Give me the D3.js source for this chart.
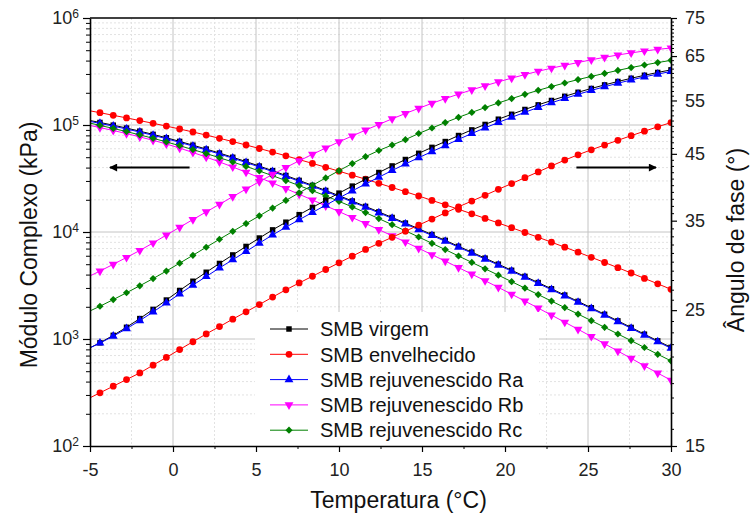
<!DOCTYPE html>
<html>
<head>
<meta charset="utf-8">
<script src="https://cdn.jsdelivr.net/npm/d3@7"></script>
<style>
  body { margin: 0; background: #fff; }
  text { font-family: "Liberation Sans", Arial, sans-serif; }
</style>
</head>
<body>
<div id="chart"></div>
<script>
// temperatures of the measured points (°C)
var temps = [-5.2, -4.4, -3.6, -2.8, -2.0, -1.2, -0.4, 0.4, 1.2, 2.0, 2.8, 3.6, 4.4, 5.2, 6.0,
  6.8, 7.6, 8.4, 9.2, 10.0, 10.8, 11.6, 12.4, 13.2, 14.0, 14.8, 15.6, 16.4, 17.2, 18.0,
  18.8, 19.6, 20.4, 21.2, 22.0, 22.8, 23.6, 24.4, 25.2, 26.0, 26.8, 27.6, 28.4, 29.2, 30.0];

// complex modulus (kPa), left axis
var modVirgem = [111700, 105600, 99610, 93600, 87550, 81730, 75960, 70280, 64770, 59580,
  54650, 49920, 45510, 41320, 37410, 33740, 30370, 27270, 24440, 21850,
  19490, 17350, 15410, 13670, 12120, 10720, 9461, 8351, 7354, 6477,
  5693, 5004, 4387, 3848, 3368, 2946, 2573, 2247, 1958, 1702,
  1477, 1282, 1109, 960.3, 835.1];
var modEnvelhecido = [137500, 130300, 123200, 116500, 109900, 103700, 97660, 91760, 86020, 80450,
  75120, 69980, 65030, 60320, 55810, 51530, 47500, 43770, 40250, 37000,
  33950, 31150, 28520, 26060, 23810, 21700, 19740, 17960, 16300, 14800,
  13400, 12140, 10970, 9893, 8925, 8031, 7210, 6475, 5802, 5188,
  4638, 4139, 3685, 3280, 2914];
var modRa = [109500, 103500, 97660, 91760, 85830, 80130, 74470, 68900, 63500, 58410,
  53580, 48940, 44620, 40510, 36680, 33080, 29770, 26740, 23960, 21420,
  19110, 17010, 15110, 13400, 11880, 10510, 9275, 8187, 7210, 6350,
  5581, 4906, 4301, 3773, 3302, 2888, 2523, 2203, 1920, 1669,
  1448, 1257, 1087, 941.5, 818.7];
var modRb = [100500, 94570, 88840, 83120, 77410, 71970, 66450, 60820, 55330, 50130,
  45190, 40510, 36220, 32250, 28710, 25450, 22510, 19910, 17580, 15510,
  13660, 12000, 10530, 9215, 8065, 7044, 6136, 5347, 4648, 4041,
  3507, 3036, 2622, 2261, 1945, 1672, 1436, 1232, 1056, 902.1,
  770.9, 659.2, 561.4, 480.1, 412.0];
var modRc = [106000, 99140, 92940, 86770, 80810, 75120, 69520, 64040, 58900, 54060,
  49480, 45100, 41030, 37170, 33580, 30230, 27140, 24330, 21750, 19340,
  17160, 15180, 13340, 11700, 10260, 8983, 7843, 6850, 5968, 5199,
  4531, 3949, 3432, 2992, 2601, 2260, 1966, 1710, 1484, 1287,
  1114, 965.1, 832.7, 719.8, 624.6];

// phase angle (°), right axis
var phaseVirgem = [21.57, 22.11, 22.74, 23.44, 24.22, 25.07, 25.97, 26.92, 27.87, 28.83,
  29.80, 30.77, 31.77, 32.79, 33.81, 34.80, 35.80, 36.79, 37.80, 38.82,
  39.86, 40.90, 41.95, 43.00, 44.05, 45.09, 46.11, 47.13, 48.21, 49.24,
  50.26, 51.26, 52.22, 53.17, 54.10, 55.00, 55.87, 56.72, 57.54, 58.32,
  59.07, 59.79, 60.47, 61.11, 61.71];
var phaseEnvelhecido = [17.87, 18.32, 18.78, 19.26, 19.74, 20.33, 20.93, 21.56, 22.20, 22.86,
  23.50, 24.17, 24.84, 25.53, 26.26, 26.99, 27.69, 28.40, 29.13, 29.87,
  30.63, 31.41, 32.14, 32.88, 33.64, 34.42, 35.22, 36.04, 36.87, 37.68,
  38.51, 39.38, 40.24, 41.14, 42.05, 43.00, 43.95, 44.84, 45.69, 46.52,
  47.35, 48.18, 49.00, 49.82, 50.62];
var phaseRa = [21.57, 22.09, 22.67, 23.32, 24.04, 24.83, 25.68, 26.58, 27.47, 28.37,
  29.30, 30.22, 31.17, 32.17, 33.17, 34.15, 35.13, 36.10, 37.10, 38.12,
  39.15, 40.18, 41.22, 42.27, 43.32, 44.36, 45.38, 46.42, 47.52, 48.58,
  49.62, 50.64, 51.63, 52.61, 53.59, 54.53, 55.41, 56.29, 57.13, 57.92,
  58.69, 59.41, 60.11, 60.74, 61.34];
var phaseRb = [28.26, 28.96, 29.70, 30.48, 31.29, 32.19, 33.16, 34.14, 35.15, 36.17,
  37.22, 38.31, 39.42, 40.53, 41.65, 42.75, 43.84, 44.92, 46.00, 47.08,
  48.13, 49.20, 50.26, 51.33, 52.37, 53.40, 54.42, 55.39, 56.33, 57.24,
  58.13, 58.99, 59.82, 60.62, 61.39, 62.10, 62.78, 63.44, 64.09, 64.70,
  65.26, 65.78, 66.25, 66.65, 67.00];
var phaseRc = [24.78, 25.37, 26.01, 26.69, 27.40, 28.15, 28.96, 29.83, 30.73, 31.67,
  32.64, 33.62, 34.62, 35.64, 36.70, 37.77, 38.87, 39.98, 41.10, 42.24,
  43.39, 44.53, 45.57, 46.52, 47.47, 48.58, 49.59, 50.62, 51.62, 52.59,
  53.55, 54.49, 55.39, 56.28, 57.14, 57.96, 58.74, 59.50, 60.21, 60.90,
  61.59, 62.25, 62.85, 63.43, 63.96];

var seriesNames = ["SMB virgem", "SMB envelhecido", "SMB rejuvenescido Ra", "SMB rejuvenescido Rb", "SMB rejuvenescido Rc"];
var modSeries = [modVirgem, modEnvelhecido, modRa, modRb, modRc];
var phaseSeries = [phaseVirgem, phaseEnvelhecido, phaseRa, phaseRb, phaseRc];

// tick values
var xTicks = [-5, 0, 5, 10, 15, 20, 25, 30];
var leftExps = [2, 3, 4, 5, 6];
var rightTicks = [15, 25, 35, 45, 55, 65, 75];

// arrows: [from temperature, to temperature, modulus level]
var arrows = [[1.0, -3.8, 40000], [24.3, 29.1, 40000]];

var colors = ["#000000", "#ff0000", "#0000ff", "#ff00ff", "#008000"];
var symbols = [d3.symbolSquare, d3.symbolCircle, d3.symbolTriangle, d3.symbolTriangle, d3.symbolSquare];
var symRot = [0, 0, 0, 180, 45];
var symSize = [30, 36, 34, 34, 26];

var margin = {top: 18, right: 81, bottom: 75, left: 90},
    width = 752 - margin.left - margin.right,
    height = 521 - margin.top - margin.bottom;

var root = d3.select("#chart").append("svg")
    .attr("width", 752)
    .attr("height", 521);
root.append("rect").attr("width", 752).attr("height", 521).attr("fill", "#fff");

var svg = root.append("g")
    .attr("transform", "translate(" + margin.left + "," + margin.top + ")");

var x = d3.scaleLinear().domain([-5, 30]).range([0, width]);
var yL = d3.scaleLog().domain([100, 1e6]).range([height, 0]);
var yR = d3.scaleLog().domain([15, 75]).range([height, 0]);

// minor tick positions
var xMinor = xTicks.slice(0, -1).map(function(d) { return d + 2.5; });
var leftMajor = leftExps.map(function(e) { return Math.pow(10, e); });
var leftMinor = [];
leftMajor.slice(0, -1).forEach(function(dec) {
  for (var m = 2; m <= 9; m++) leftMinor.push(dec * m);
});
var rightMinor = d3.range(16, 75).filter(function(d) { return rightTicks.indexOf(d) < 0; });

// grid
var grid = svg.append("g");
grid.selectAll(".hminor").data(leftMinor).enter().append("line")
    .attr("x1", 0).attr("x2", width)
    .attr("y1", function(d) { return yL(d); }).attr("y2", function(d) { return yL(d); })
    .attr("stroke", "#e2e2e2").attr("stroke-dasharray", "2,2");
grid.selectAll(".vminor").data(xMinor).enter().append("line")
    .attr("y1", 0).attr("y2", height)
    .attr("x1", function(d) { return x(d); }).attr("x2", function(d) { return x(d); })
    .attr("stroke", "#e2e2e2").attr("stroke-dasharray", "2,2");
grid.selectAll(".hmajor").data(leftMajor.slice(1, -1)).enter().append("line")
    .attr("x1", 0).attr("x2", width)
    .attr("y1", function(d) { return yL(d); }).attr("y2", function(d) { return yL(d); })
    .attr("stroke", "#c4c4c4");
grid.selectAll(".vmajor").data(xTicks.slice(1, -1)).enter().append("line")
    .attr("y1", 0).attr("y2", height)
    .attr("x1", function(d) { return x(d); }).attr("x2", function(d) { return x(d); })
    .attr("stroke", "#c4c4c4");

// clip for curves
svg.append("clipPath").attr("id", "plotclip")
  .append("rect").attr("width", width).attr("height", height);

var plot = svg.append("g").attr("clip-path", "url(#plotclip)");

function drawSeries(i, values, yScale) {
  var pts = temps.map(function(t, k) { return [t, values[k]]; });
  var line = d3.line()
      .x(function(d) { return x(d[0]); })
      .y(function(d) { return yScale(d[1]); });
  var g = plot.append("g");
  g.append("path")
      .attr("d", line(pts))
      .attr("fill", "none")
      .attr("stroke", colors[i])
      .attr("stroke-width", 1);
  g.selectAll("path.pt").data(pts).enter().append("path")
      .attr("class", "pt")
      .attr("d", d3.symbol().type(symbols[i]).size(symSize[i]))
      .attr("transform", function(d) {
        return "translate(" + x(d[0]) + "," + yScale(d[1]) + ") rotate(" + symRot[i] + ")";
      })
      .attr("fill", colors[i]);
}

modSeries.forEach(function(v, i) { drawSeries(i, v, yL); });
phaseSeries.forEach(function(v, i) { drawSeries(i, v, yR); });

// arrows
var defs = svg.append("defs");
defs.append("marker")
    .attr("id", "ahead")
    .attr("viewBox", "0 0 10 10")
    .attr("refX", 9).attr("refY", 5)
    .attr("markerWidth", 5.5).attr("markerHeight", 4)
    .attr("markerUnits", "strokeWidth")
    .attr("orient", "auto")
  .append("path")
    .attr("d", "M0,0 L10,5 L0,10 Z")
    .attr("fill", "#000");
svg.selectAll(".arrow").data(arrows).enter().append("line")
    .attr("x1", function(d) { return x(d[0]); })
    .attr("x2", function(d) { return x(d[1]); })
    .attr("y1", function(d) { return yL(d[2]); })
    .attr("y2", function(d) { return yL(d[2]); })
    .attr("stroke", "#000")
    .attr("stroke-width", 2)
    .attr("marker-end", "url(#ahead)");

// legend
var legend = svg.append("g").attr("transform", "translate(165,294)");
legend.append("rect")
    .attr("x", 0).attr("y", 0)
    .attr("width", 284).attr("height", height - 294)
    .attr("fill", "#fff");
seriesNames.forEach(function(name, i) {
  var ly = 17 + i * 25.3;
  legend.append("line")
      .attr("x1", 15).attr("x2", 53)
      .attr("y1", ly).attr("y2", ly)
      .attr("stroke", colors[i]).attr("stroke-width", 1);
  legend.append("path")
      .attr("d", d3.symbol().type(symbols[i]).size(symSize[i]))
      .attr("transform", "translate(34," + ly + ") rotate(" + symRot[i] + ")")
      .attr("fill", colors[i]);
  legend.append("text")
      .attr("x", 65).attr("y", ly)
      .attr("dy", "0.36em")
      .style("font-size", "20px")
      .attr("fill", "#111")
      .text(name);
});

// axes
function styleAxis(g) {
  g.select(".domain").attr("stroke", "#000").attr("stroke-width", 1.6);
  g.selectAll(".tick line").attr("stroke", "#000").attr("stroke-width", 1.2);
  g.selectAll(".tick text").style("font-size", "18px").attr("fill", "#222")
    .style("font-family", "'Liberation Sans', Arial, sans-serif");
}

svg.append("g")
    .attr("transform", "translate(0," + height + ")")
    .call(d3.axisBottom(x).tickValues(xMinor).tickSize(3).tickSizeOuter(0).tickFormat(""))
    .call(function(g) { g.select(".domain").remove(); g.selectAll(".tick line").attr("stroke", "#000"); });
svg.append("g")
    .attr("transform", "translate(0," + height + ")")
    .call(d3.axisBottom(x).tickValues(xTicks).tickSize(6).tickSizeOuter(0).tickPadding(11)
      .tickFormat(function(d) { return String(d); }))
    .call(styleAxis);

svg.append("g")
    .call(d3.axisLeft(yL).tickValues(leftMinor).tickSize(4).tickSizeOuter(0).tickFormat(""))
    .call(function(g) { g.select(".domain").remove(); g.selectAll(".tick line").attr("stroke", "#000"); });
var leftAxis = svg.append("g")
    .call(d3.axisLeft(yL).tickValues(leftMajor).tickSize(7).tickSizeOuter(0).tickFormat(""))
    .call(styleAxis);
leftAxis.selectAll(".lbl").data(leftExps).enter().append("text")
    .attr("x", -11)
    .attr("y", function(e) { return yL(Math.pow(10, e)); })
    .attr("text-anchor", "end")
    .attr("fill", "#222")
    .style("font-size", "18px")
    .each(function(e) {
      var t = d3.select(this);
      t.append("tspan").attr("dy", "0.36em").text("10");
      t.append("tspan").attr("dy", "-0.55em").style("font-size", "12px").text(e);
    });

svg.append("g")
    .attr("transform", "translate(" + width + ",0)")
    .call(d3.axisRight(yR).tickValues(rightMinor).tickSize(3).tickSizeOuter(0).tickFormat(""))
    .call(function(g) { g.select(".domain").remove(); g.selectAll(".tick line").attr("stroke", "#000"); });
svg.append("g")
    .attr("transform", "translate(" + width + ",0)")
    .call(d3.axisRight(yR).tickValues(rightTicks).tickSize(6).tickSizeOuter(0).tickPadding(8)
      .tickFormat(function(d) { return String(d); }))
    .call(styleAxis);

// top frame line
svg.append("line")
    .attr("x1", 0).attr("x2", width)
    .attr("y1", 0).attr("y2", 0)
    .attr("stroke", "#000").attr("stroke-width", 1.6);

// axis titles
svg.append("text")
    .attr("transform", "translate(-53," + 227 + ") rotate(-90)")
    .attr("text-anchor", "middle")
    .style("font-size", "23px")
    .attr("fill", "#111")
    .text("Módulo Complexo (kPa)");
svg.append("text")
    .attr("transform", "translate(" + (width + 73) + "," + 222 + ") rotate(-90)")
    .attr("text-anchor", "middle")
    .style("font-size", "23px")
    .attr("fill", "#111")
    .text("Ângulo de fase (°)");
svg.append("text")
    .attr("x", width / 2 + 18)
    .attr("y", height + 62)
    .attr("text-anchor", "middle")
    .style("font-size", "23px")
    .attr("fill", "#111")
    .text("Temperatura (°C)");
</script>
</body>
</html>
